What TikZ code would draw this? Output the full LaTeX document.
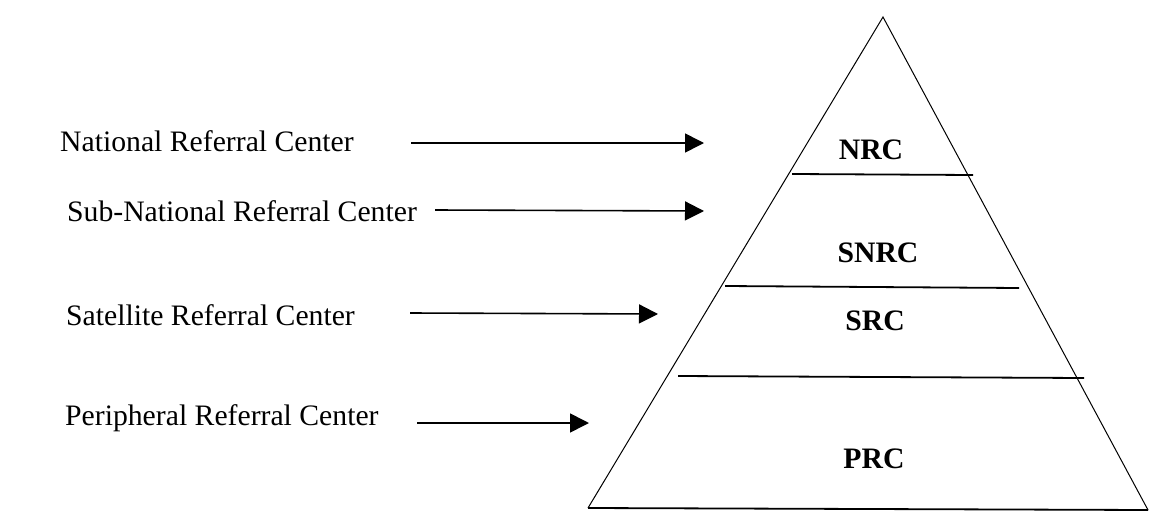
\documentclass[tikz,border=0pt]{standalone}
\usepackage{fontspec}
\setmainfont{Liberation Serif}
\usetikzlibrary{arrows.meta}
\begin{document}
\begin{tikzpicture}[x=1pt,y=-1pt,
  lbl/.style={anchor=west,inner sep=0pt,font=\fontsize{29.7}{32}\selectfont},
  lvl/.style={inner sep=0pt,font=\fontsize{29.7}{32}\selectfont\bfseries},
  conn/.style={line width=1.6pt,-{Triangle[length=19pt,width=19pt]}},
  edge/.style={line width=1pt},
  divider/.style={line width=1.8pt}]
\useasboundingbox (0,0) rectangle (1173,530);
% pyramid
\coordinate (apex) at (883,17);
\coordinate (bl) at (588,508);
\coordinate (br) at (1148,510);
\draw[edge] (bl) -- (apex) -- (br);
\draw[divider] (bl) -- (br);
\coordinate (d1l) at (792,174);
\coordinate (d1r) at (973,175);
\coordinate (d2l) at (725,286);
\coordinate (d2r) at (1019,288);
\coordinate (d3l) at (678,376);
\coordinate (d3r) at (1084,378);
\draw[divider] (d1l) -- (d1r);
\draw[divider] (d2l) -- (d2r);
\draw[divider] (d3l) -- (d3r);
% level labels
\node[lvl] (nrc) at (871,150) {NRC};
\node[lvl] (snrc) at (878,253) {SNRC};
\node[lvl] (src) at (875,321) {SRC};
\node[lvl] (prc) at (874,459) {PRC};
% left labels
\node[lbl] (l1) at (60,141) {National Referral Center};
\node[lbl] (l2) at (67,211) {Sub-National Referral Center};
\node[lbl] (l3) at (66,315) {Satellite Referral Center};
\node[lbl] (l4) at (65,418) {Peripheral Referral Center};
% arrow ends
\coordinate (a1s) at (411,143); \coordinate (a1e) at (704,143);
\coordinate (a2s) at (435,210); \coordinate (a2e) at (704,211);
\coordinate (a3s) at (410,313); \coordinate (a3e) at (658,314);
\coordinate (a4s) at (417,423); \coordinate (a4e) at (589,423);
\draw[conn] (a1s) -- (a1e);
\draw[conn] (a2s) -- (a2e);
\draw[conn] (a3s) -- (a3e);
\draw[conn] (a4s) -- (a4e);
\end{tikzpicture}
\end{document}
